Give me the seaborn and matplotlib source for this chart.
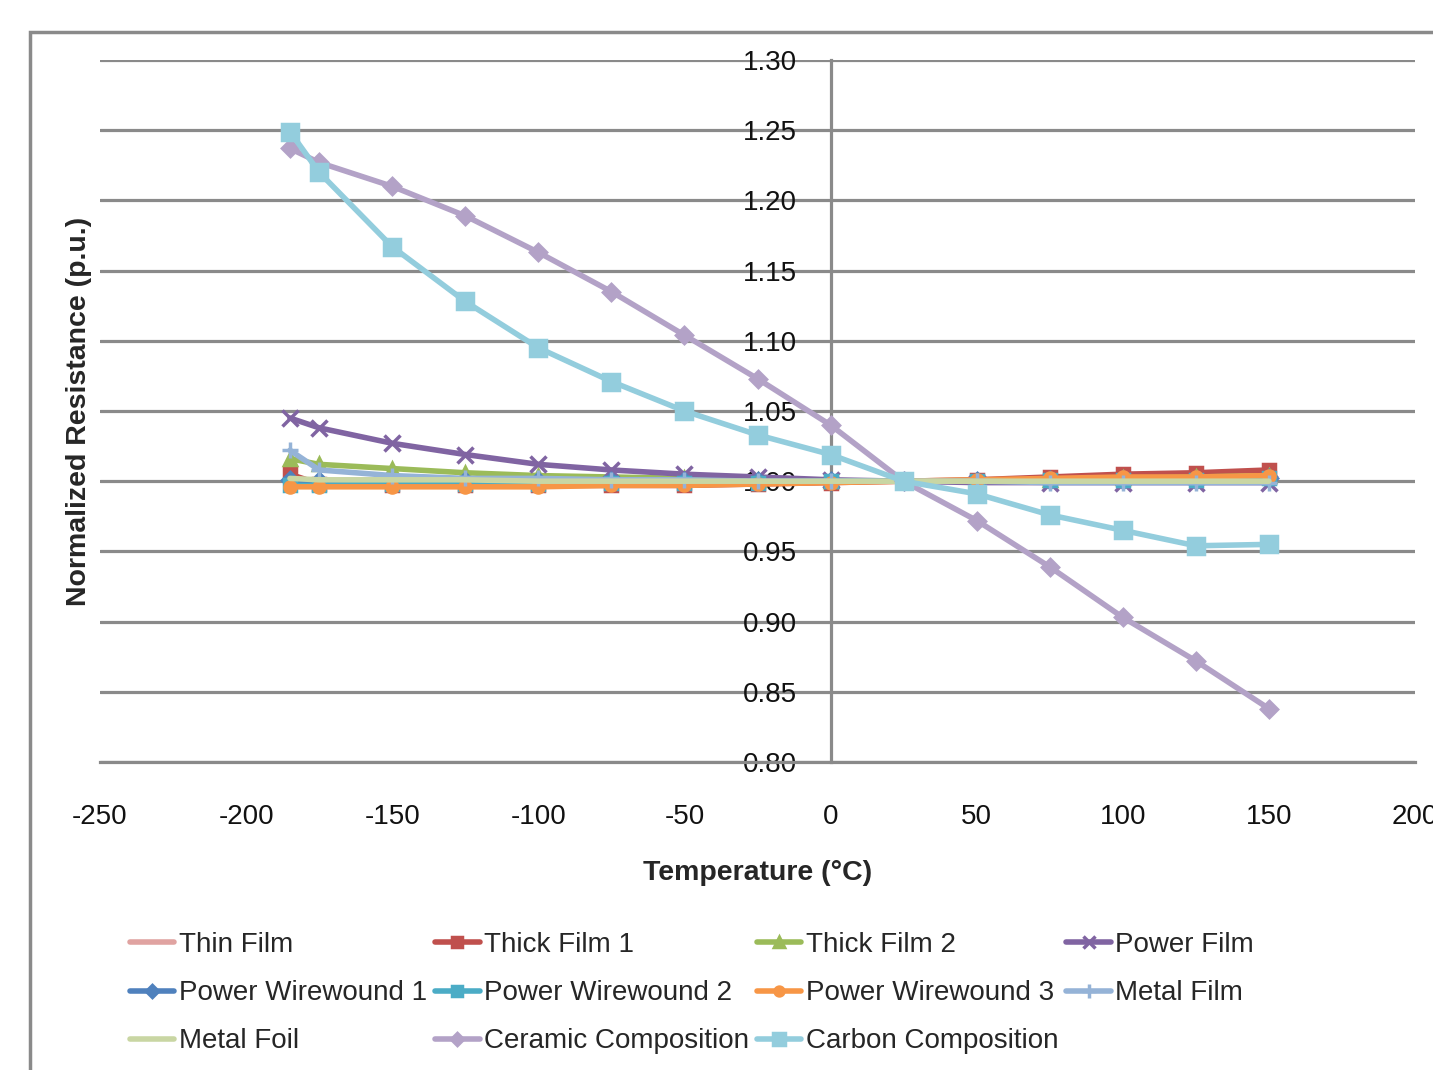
import matplotlib
matplotlib.use("Agg")
import matplotlib.pyplot as plt
import seaborn as sns
import pandas as pd
from matplotlib.patches import Rectangle

temps = [-185, -175, -150, -125, -100, -75, -50, -25, 0, 25, 50, 75, 100, 125, 150]

thin_film = [1.001, 1.000, 1.000, 0.999, 0.999, 0.999, 0.999, 0.999, 1.000, 1.000, 1.000, 1.001, 1.001, 1.002, 1.002]
thick_film_1 = [1.005, 0.998, 0.997, 0.997, 0.997, 0.997, 0.997, 0.998, 0.999, 1.000, 1.001, 1.003, 1.005, 1.006, 1.008]
thick_film_2 = [1.016, 1.012, 1.009, 1.006, 1.004, 1.003, 1.002, 1.001, 1.000, 1.000, 1.000, 1.001, 1.002, 1.003, 1.004]
power_film = [1.045, 1.038, 1.027, 1.019, 1.012, 1.008, 1.005, 1.003, 1.001, 1.000, 0.999, 0.999, 0.999, 0.999, 0.999]
power_ww_1 = [1.001, 1.000, 1.000, 1.000, 1.000, 1.000, 1.000, 1.000, 1.000, 1.000, 1.000, 1.001, 1.001, 1.001, 1.002]
power_ww_2 = [0.997, 0.997, 0.998, 0.998, 0.998, 0.999, 0.999, 0.999, 1.000, 1.000, 1.000, 1.001, 1.001, 1.001, 1.002]
power_ww_3 = [0.996, 0.996, 0.996, 0.996, 0.996, 0.997, 0.997, 0.998, 0.999, 1.000, 1.001, 1.002, 1.003, 1.003, 1.004]
metal_film = [1.022, 1.008, 1.004, 1.002, 1.002, 1.001, 1.001, 1.000, 1.000, 1.000, 1.000, 0.999, 0.999, 0.999, 0.999]
metal_foil = [1.002, 1.001, 1.001, 1.001, 1.000, 1.000, 1.000, 1.000, 1.000, 1.000, 1.000, 1.000, 1.000, 1.000, 1.000]
ceramic_comp = [1.237, 1.227, 1.210, 1.189, 1.163, 1.135, 1.104, 1.073, 1.040, 1.000, 0.972, 0.939, 0.903, 0.872, 0.838]
carbon_comp = [1.249, 1.220, 1.167, 1.128, 1.095, 1.071, 1.050, 1.033, 1.019, 1.000, 0.991, 0.976, 0.965, 0.954, 0.955]

series_names = ["Thin Film", "Thick Film 1", "Thick Film 2", "Power Film",
                "Power Wirewound 1", "Power Wirewound 2", "Power Wirewound 3", "Metal Film",
                "Metal Foil", "Ceramic Composition", "Carbon Composition"]
series_values = [thin_film, thick_film_1, thick_film_2, power_film,
                 power_ww_1, power_ww_2, power_ww_3, metal_film,
                 metal_foil, ceramic_comp, carbon_comp]

colors = ["#E0A3A1", "#C0504D", "#9BBB59", "#8064A2",
          "#4F81BD", "#4BACC6", "#F79646", "#95B3D7",
          "#C9D6A3", "#B3A2C7", "#93CDDD"]
markers = [None, "s", "^", "x", "D", "s", "o", "+", None, "D", "s"]
msizes = [0, 9, 9, 11, 8, 9, 8, 12, 0, 8, 11]

sns.set_style("white")
plt.rcParams["font.family"] = ["Liberation Sans", "DejaVu Sans"]
plt.rcParams["axes.unicode_minus"] = False

fig = plt.figure(figsize=(14.33, 10.70), dpi=100)
W, H = 1433, 1070
ax = fig.add_axes([100 / W, 1 - 762 / H, (1415 - 100) / W, (762 - 60) / H])

# outer chart frame
fig.patches.append(Rectangle((30 / W, -0.1), 1.2, 1 - 32 / H + 0.1, transform=fig.transFigure,
                             fill=False, edgecolor="#8a8a8a", lw=2.5, zorder=0))

handles = []
for name, vals, c, m, ms in zip(series_names, series_values, colors, markers, msizes):
    df = pd.DataFrame({"Temperature": temps, "Resistance": vals})
    sns.lineplot(data=df, x="Temperature", y="Resistance", ax=ax, color=c,
                 marker=m, markersize=ms, markeredgecolor=c, markeredgewidth=2.5,
                 lw=4, label=name, legend=False)
    handles.append(ax.lines[-1])

ax.set_xlim(-250, 200)
ax.set_ylim(0.80, 1.30)
ax.set_xticks(range(-250, 201, 50))
ax.set_yticks([0.80 + 0.05 * i for i in range(11)])
ax.set_yticklabels([f"{0.80 + 0.05 * i:.2f}" for i in range(11)])

ax.grid(axis="y", color="#8a8a8a", lw=2.3)
ax.grid(axis="x", visible=False)
ax.set_axisbelow(True)

for s in ["top", "right"]:
    ax.spines[s].set_visible(False)
ax.spines["bottom"].set_color("#8a8a8a")
ax.spines["bottom"].set_linewidth(2.3)
ax.spines["left"].set_position(("data", 0))
ax.spines["left"].set_color("#8a8a8a")
ax.spines["left"].set_linewidth(2.3)
ax.spines["left"].set_zorder(0.5)

ax.tick_params(axis="x", direction="out", length=7, width=2.3, color="#8a8a8a",
               labelsize=20, pad=23, labelcolor="#111111")
ax.tick_params(axis="y", length=0, labelsize=20, pad=24, labelcolor="#111111")

ax.set_xlabel("Temperature (°C)", fontsize=20.5, fontweight="bold", labelpad=22)
ax.set_ylabel("Normalized Resistance (p.u.)", fontsize=20.5, fontweight="bold")
ax.yaxis.set_label_coords(-0.006, 0.5)

order = [0, 4, 8, 1, 5, 9, 2, 6, 10, 3, 7]
leg = fig.legend([handles[i] for i in order], [series_names[i] for i in order],
                 loc="upper left", bbox_to_anchor=(130 / W, 1 - 932 / H),
                 ncol=4, frameon=False, fontsize=20, handlelength=1.6,
                 handletextpad=0.15, columnspacing=0.3, labelspacing=0.8,
                 borderpad=0, borderaxespad=0, markerscale=0.8)

fig.savefig("out.png", dpi=100)
